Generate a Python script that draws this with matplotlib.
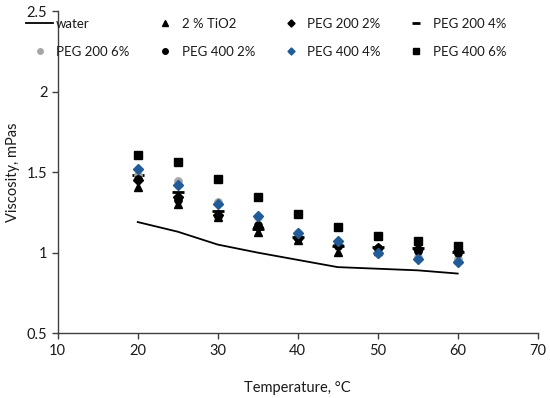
import matplotlib
matplotlib.use("Agg")
import matplotlib.pyplot as plt

plt.rcParams['font.family'] = ['Lato', 'DejaVu Sans']

temps = [20, 25, 30, 35, 40, 45, 50, 55, 60]
water = [1.19, 1.13, 1.05, 1.00, 0.955, 0.91, 0.90, 0.89, 0.87]
tio2 = [1.405, 1.305, 1.22, 1.13, 1.078, 1.005, 1.01, 0.98, 0.96]
peg200_2 = [1.45, 1.343, 1.235, 1.16, 1.09, 1.05, 1.03, 1.02, 1.01]
peg200_4 = [1.483, 1.376, 1.256, 1.144, 1.094, 1.042, 1.038, 1.026, 1.005]
peg200_6 = [1.48, 1.446, 1.315, 1.22, 1.12, 1.06, 1.0, 0.97, 0.96]
peg400_2 = [1.455, 1.326, 1.23, 1.171, 1.088, 1.04, 1.03, 1.01, 1.0]
peg400_4 = [1.517, 1.42, 1.303, 1.227, 1.125, 1.071, 1.0, 0.96, 0.943]
peg400_6 = [1.606, 1.564, 1.457, 1.343, 1.243, 1.16, 1.104, 1.073, 1.04]

xticks = [10, 20, 30, 40, 50, 60, 70]
yticks = [0.5, 1, 1.5, 2, 2.5]
yticklabels = ['0.5', '1', '1.5', '2', '2.5']

BLUE = '#215C98'
GRAY = '#A6A6A6'

fig = plt.figure(figsize=(5.5, 3.98), dpi=100)
ax = fig.add_axes([0.105, 0.163, 0.8726, 0.809])

ax.plot(temps, water, color='black', lw=1.3, label='water', zorder=2)
ax.plot(temps, tio2, ls='none', marker='^', ms=5.8, color='black', label='2 % TiO2', zorder=3)
ax.plot(temps, peg200_2, ls='none', marker='D', ms=4.8, color='black', label='PEG 200 2%', zorder=3)
ax.plot(temps, peg200_4, ls='none', marker='_', ms=8, mew=2.0, color='black', label='PEG 200 4%', zorder=3)
ax.plot(temps, peg200_6, ls='none', marker='o', ms=5.3, color=GRAY, label='PEG 200 6%', zorder=3)
ax.plot(temps, peg400_2, ls='none', marker='o', ms=5.3, color='black', label='PEG 400 2%', zorder=3)
ax.plot(temps, peg400_4, ls='none', marker='D', ms=4.8, color=BLUE, label='PEG 400 4%', zorder=3)
ax.plot(temps, peg400_6, ls='none', marker='s', ms=5.2, color='black', label='PEG 400 6%', zorder=3)

ax.set_xlim(10, 70)
ax.set_ylim(0.5, 2.5)
ax.set_xticks(xticks)
ax.set_yticks(yticks)
ax.set_yticklabels(yticklabels)
for s in ['top', 'right']:
    ax.spines[s].set_visible(False)
for s in ['left', 'bottom']:
    ax.spines[s].set_color('#404040')
    ax.spines[s].set_linewidth(1.0)
ax.tick_params(direction='out', length=4, width=1, color='#404040',
               labelsize=10.5, labelcolor='#1a1a1a')

ax.set_xlabel('Temperature, °C', fontsize=10.5, color='#1a1a1a', labelpad=17)
ax.set_ylabel('Viscosity, mPas', fontsize=10.5, color='#1a1a1a', labelpad=5)

handles, labels = ax.get_legend_handles_labels()
order = [0, 4, 1, 5, 2, 6, 3, 7]
leg = fig.legend([handles[i] for i in order], [labels[i] for i in order],
                 ncol=4, loc='upper left', bbox_to_anchor=(0.036, 0.972),
                 frameon=False, fontsize=9.5, handlelength=2.0, borderpad=0,
                 columnspacing=1.7, handletextpad=0.25, labelspacing=1.2,
                 markerscale=0.75)
for t in leg.get_texts():
    t.set_color('#1a1a1a')

fig.savefig('out.png', dpi=100)
